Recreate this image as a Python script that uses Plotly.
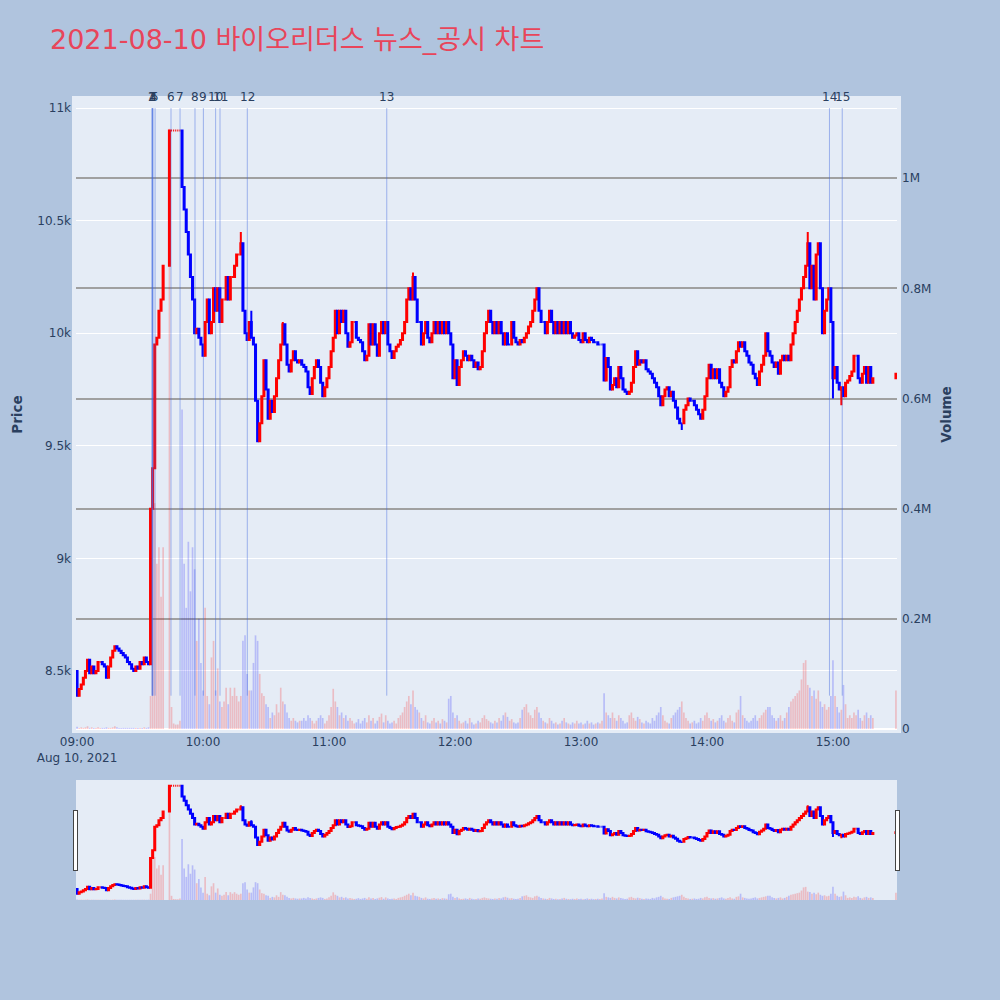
import datetime as dt
import plotly.graph_objects as go

# ---- data (1-minute candles, 2021-08-10) ----
first_open = 8500
close_px = [
    8390, 8420, 8440, 8470, 8500, 8550, 8490, 8520, 8490, 8500,
    8540, 8540, 8530, 8520, 8470, 8520, 8560, 8590, 8610, 8600,
    8590, 8580, 8570, 8560, 8540, 8530, 8510, 8500, 8520, 8510,
    8540, 8530, 8560, 8540, 8530, 9220, 9400, 9950, 9980, 10100,
    10150, 10300, None, None, 10900, 10900, 10900, 10900, 10900, 10900,
    10650, 10550, 10450, 10350, 10250, 10150, 10000, 10020, 9980, 9950,
    9900, 10050, 10150, 10000, 10050, 10200, 10100, 10200, 10050, 10150,
    10150, 10250, 10150, 10250, 10250, 10300, 10350, 10350, 10400, 10100,
    10000, 9970, 10050, 9980, 9950, 9700, 9520, 9600, 9720, 9880,
    9750, 9620, 9700, 9650, 9720, 9800, 9880, 9950, 10040, 9950,
    9860, 9830, 9880, 9920, 9880, 9870, 9880, 9860, 9850, 9830,
    9760, 9730, 9800, 9850, 9880, 9850, 9780, 9720, 9760, 9800,
    9850, 9920, 9980, 10100, 10000, 10100, 10050, 10100, 10000, 9940,
    9960, 10050, 10050, 9980, 9970, 9960, 9920, 9880, 9900, 10040,
    9950, 10040, 9950, 9900, 10000, 10050, 10000, 10050, 9950, 9920,
    9890, 9920, 9940, 9950, 9970, 10000, 10050, 10150, 10200, 10150,
    10250, 10150, 10050, 10050, 9950, 10000, 10050, 9980, 9960, 10000,
    10050, 10000, 10050, 10000, 10050, 10000, 10050, 10000, 9950, 9800,
    9880, 9770, 9850, 9880, 9920, 9900, 9880, 9900, 9880, 9850,
    9870, 9840, 9850, 9920, 10000, 10050, 10100, 10050, 10000, 10050,
    10000, 10050, 10000, 9950, 10000, 9950, 9950, 10050, 9980, 9960,
    9950, 9970, 9960, 9980, 10000, 10030, 10050, 10100, 10150, 10200,
    10100, 10050, 10050, 10000, 10050, 10100, 10050, 10000, 10050, 10000,
    10050, 10000, 10050, 10000, 10050, 10000, 9980, 9990, 10000, 9970,
    9960, 10000, 9970, 9960, 9980, 9970, 9960, 9960, 9950, 9950,
    9950, 9790, 9890, 9850, 9750, 9770, 9800, 9760, 9850, 9800,
    9750, 9740, 9730, 9740, 9780, 9850, 9920, 9860, 9880, 9870,
    9880, 9840, 9830, 9820, 9800, 9780, 9760, 9720, 9680, 9720,
    9750, 9760, 9720, 9740, 9700, 9670, 9620, 9600, 9600, 9660,
    9680, 9710, 9700, 9700, 9680, 9660, 9640, 9620, 9660, 9720,
    9800, 9860, 9800, 9840, 9800, 9840, 9780, 9760, 9720, 9740,
    9760, 9850, 9880, 9870, 9920, 9960, 9940, 9960, 9920, 9900,
    9870, 9860, 9820, 9800, 9770, 9830, 9860, 9900, 10000, 9920,
    9900, 9870, 9850, 9870, 9820, 9880, 9900, 9880, 9900, 9880,
    9950, 10000, 10050, 10100, 10150, 10200, 10250, 10300, 10400, 10200,
    10300, 10150, 10350, 10400, 10200, 10000, 10100, 10150, 10200, 10050,
    9800, 9850, 9780, 9750, 9760, 9720, 9780, 9790, 9810, 9830,
    9900, 9900, 9800, 9780, 9820, 9850, 9780, 9850, 9780, 9800,
]
volume_k = [
    4, 2, 3, 2, 3, 5, 2, 3, 2, 2,
    3, 2, 2, 2, 3, 2, 2, 3, 5, 3,
    2, 2, 2, 2, 2, 2, 2, 2, 2, 2,
    2, 2, 3, 2, 3, 60, 470, 410, 300, 330,
    240, 330, None, None, 1090, 40, 10, 8, 8, 15,
    580, 300, 220, 340, 250, 330, 290, 160, 200, 120,
    70, 220, 60, 45, 130, 160, 70, 110, 50, 40,
    50, 75, 45, 75, 60, 75, 60, 50, 60, 160,
    170, 100, 70, 70, 120, 170, 160, 100, 65, 60,
    45, 40, 20, 30, 25, 45, 30, 75, 50, 45,
    30, 20, 15, 20, 15, 12, 15, 15, 20, 15,
    25, 20, 15, 10, 15, 20, 25, 20, 10, 15,
    25, 40, 73, 50, 40, 25, 30, 20, 25, 15,
    20, 15, 10, 12, 18, 10, 15, 20, 12, 25,
    15, 20, 10, 15, 22, 28, 12, 25, 15, 10,
    12, 15, 10, 20, 25, 30, 40, 50, 60, 45,
    70, 40, 35, 30, 20, 15, 25, 12, 10, 15,
    20, 12, 15, 10, 18, 15, 12, 55, 60, 30,
    20, 25, 15, 10, 12, 15, 10, 20, 12, 8,
    10, 15, 12, 20, 25, 18, 15, 12, 10, 15,
    12, 20, 15, 25, 30, 22, 15, 18, 12, 10,
    12, 20, 35, 40, 45, 30, 25, 20, 35, 40,
    30, 20, 15, 12, 10, 20, 15, 10, 12, 8,
    10, 15, 20, 12, 10, 8, 12, 10, 15, 10,
    12, 8, 10, 15, 10, 12, 8, 10, 12, 10,
    15, 65, 30, 25, 20, 30, 20, 15, 25, 20,
    15, 10, 12, 25, 30, 20, 15, 22, 18, 12,
    10, 15, 12, 10, 20, 15, 25, 30, 40, 25,
    15, 12, 10, 20, 25, 30, 35, 40, 50, 30,
    20, 15, 10, 12, 15, 10, 12, 20, 15, 25,
    30, 20, 15, 18, 12, 15, 20, 25, 15, 12,
    20, 25, 15, 12, 30, 35, 60, 25, 20, 15,
    12, 15, 20, 25, 15, 20, 25, 30, 35, 40,
    40, 25, 20, 15, 20, 25, 15, 20, 30, 40,
    50, 55, 60, 65, 70, 90, 120, 125, 80, 75,
    60, 70, 55, 70, 50, 40, 45, 35, 40, 60,
    125, 60, 40, 30, 35, 80, 45, 20, 25, 20,
    30, 25, 35, 20, 15, 25, 30, 20, 25, 20,
]
closing_time = "15:30"
closing_close = 9820
closing_volume_k = 70

# extra wicks (minute index from 09:00)
wick_high_min = [78, 83, 98, 160, 348, 353]
wick_high_val = [10450, 10100, 10050, 10270, 10450, 10400]
wick_low_min = [288, 360, 364]
wick_low_val = [9570, 9710, 9680]

# news / disclosure markers
news_labels = [str(i) for i in range(1, 16)]
news_times = ["09:35:50", "09:35:40", "09:36:00", "09:36:10", "09:37:10",
              "09:44:45", "09:49:03", "09:56:10", "10:00:10", "10:06:00",
              "10:08:05", "10:21:05", "11:27:30", "14:58:20", "15:04:25"]
day = "2021-08-10"
title_text = "2021-08-10 바이오리더스 뉴스_공시 차트"

# ---- build candles ----
base = dt.datetime(2021, 8, 10, 9, 0)
times, o, h, l, c, v = [], [], [], [], [], []
prev = first_open
for i, cp in enumerate(close_px):
    if cp is None:
        continue
    times.append(base + dt.timedelta(minutes=i))
    o.append(prev)
    c.append(cp)
    hi, lo = max(prev, cp), min(prev, cp)
    if i in wick_high_min:
        hi = max(hi, wick_high_val[wick_high_min.index(i)])
    if i in wick_low_min:
        lo = min(lo, wick_low_val[wick_low_min.index(i)])
    h.append(hi)
    l.append(lo)
    v.append(volume_k[i] * 1000)
    prev = cp
# closing auction
times.append(dt.datetime.strptime(day + " " + closing_time, "%Y-%m-%d %H:%M"))
o.append(prev); c.append(closing_close)
h.append(max(prev, closing_close)); l.append(min(prev, closing_close))
v.append(closing_volume_k * 1000)

vol_colors = ["rgba(255,0,0,0.2)" if cc >= oo else "rgba(0,0,255,0.2)" for oo, cc in zip(o, c)]

fig = go.Figure()
fig.add_trace(go.Candlestick(
    x=times, open=o, high=h, low=l, close=c,
    increasing=dict(line=dict(color="red", width=2), fillcolor="red"),
    decreasing=dict(line=dict(color="blue", width=2), fillcolor="blue"),
    yaxis="y", name="Price",
))
fig.add_trace(go.Bar(
    x=times, y=v, marker=dict(color=vol_colors, line=dict(width=0)),
    yaxis="y2", name="Volume",
))

low_all = min(l)
for lab, t in zip(news_labels, news_times):
    tx = day + " " + t
    fig.add_shape(type="line", xref="x", yref="y", x0=tx, x1=tx, y0=low_all, y1=11000,
                  line=dict(color="rgba(65,105,225,0.45)", width=1))
    fig.add_annotation(x=tx, y=11000, xref="x", yref="y", text=lab, showarrow=False,
                       yanchor="bottom", yshift=2, font=dict(size=12, color="#2a3f5f"))

fig.update_layout(
    width=1000, height=1000,
    font=dict(family="DejaVu Sans", size=12, color="#2a3f5f"),
    paper_bgcolor="#B0C4DE", plot_bgcolor="#E5ECF6",
    margin=dict(l=76, r=103, t=100, b=100, pad=4),
    showlegend=False,
    title=dict(text=title_text, x=0.05, xanchor="left", y=0.96, yanchor="middle",
               font=dict(size=27, color="#E8455A", family="DejaVu Sans, Noto Sans CJK KR")),
    xaxis=dict(type="date", showgrid=False,
               rangeslider=dict(visible=True, bgcolor="#E5ECF6")),
    yaxis=dict(title=dict(text="<b>Price</b>", font=dict(size=13.5)),
               range=[8242, 11036], gridcolor="white"),
    yaxis2=dict(title=dict(text="<b>Volume</b>", font=dict(size=13.5)),
                overlaying="y", side="right",
                range=[0, 1.142e6], showgrid=True, gridcolor="#A0A0A0", gridwidth=2),
)

fig.write_html("out.html", config={"displayModeBar": False},
               post_script="document.body.style.margin='0px';")
